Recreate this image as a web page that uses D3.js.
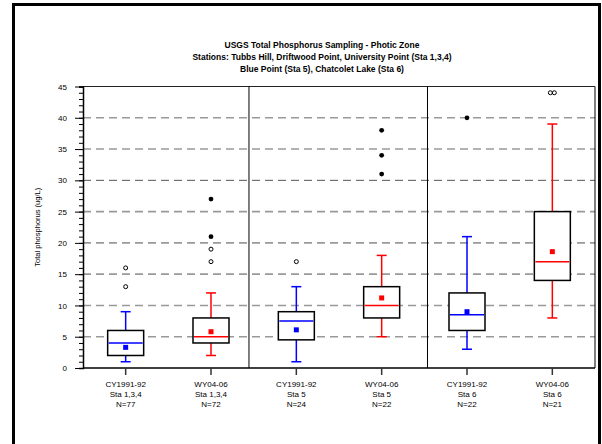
<!DOCTYPE html>
<html>
<head>
<meta charset="utf-8">
<script src="https://cdn.jsdelivr.net/npm/d3@7"></script>
<style>
  body { margin: 0; background: #fff; }
  svg { display: block; font-family: "Liberation Sans", Arial, sans-serif; }
</style>
</head>
<body>
<div id="chart"></div>
<script>
// box plot data
var periods  = ["CY1991-92", "WY04-06", "CY1991-92", "WY04-06", "CY1991-92", "WY04-06"];
var stations = ["Sta 1,3,4", "Sta 1,3,4", "Sta 5", "Sta 5", "Sta 6", "Sta 6"];
var counts   = [77, 72, 24, 22, 22, 21];
var lowWhisker  = [1, 2, 1, 5, 3, 8];
var q1          = [2, 4, 4.5, 8, 6, 14];
var medians     = [4, 5, 7.5, 10, 8.5, 17];
var q3          = [6, 8, 9, 13, 12, 25];
var highWhisker = [9, 12, 13, 18, 21, 39];
var means       = [3.3, 5.8, 6.1, 11.2, 9, 18.6];
var openOutliers   = [[13, 16], [17, 19], [17], [], [], [44, 44]];
var filledOutliers = [[], [21, 27], [], [31, 34, 38], [40], []];
var dividers = [2.445, 4.537];   // panel separators, in x units
var yTicks = [0, 5, 10, 15, 20, 25, 30, 35, 40, 45];

var width = 602, height = 444;
var colors = ["#0000ff", "#ff0000"];

var svg = d3.select("#chart").append("svg")
    .attr("width", width)
    .attr("height", height);

// outer frame
svg.append("rect")
    .attr("x", 13.5).attr("y", 4.5)
    .attr("width", 586).attr("height", 460)
    .attr("fill", "none").attr("stroke", "#000").attr("stroke-width", 3);

var x = d3.scaleLinear().domain([0.5, 6.5]).range([83, 595]);
var y = d3.scaleLinear().domain([0, 45]).range([368, 86.5]);

// title
var title = ["USGS Total Phosphorus Sampling - Photic Zone",
             "Stations: Tubbs Hill, Driftwood Point, University Point (Sta 1,3,4)",
             "Blue Point (Sta 5), Chatcolet Lake (Sta 6)"];
svg.append("g").selectAll("text")
    .data(title)
    .enter().append("text")
    .attr("x", 322)
    .attr("y", function(d, i) { return 48 + i * 12; })
    .attr("text-anchor", "middle")
    .attr("font-size", "8.5px")
    .attr("font-weight", "bold")
    .text(function(d) { return d; });

// grid lines
svg.append("g").selectAll("line")
    .data(yTicks.filter(function(d) { return d > 0 && d < 45; }))
    .enter().append("line")
    .attr("x1", x(0.5)).attr("x2", x(6.5))
    .attr("y1", function(d) { return y(d); })
    .attr("y2", function(d) { return y(d); })
    .attr("stroke", function(d) { return d == 30 ? "#555" : "#999"; })
    .attr("stroke-width", function(d) { return d == 30 ? 1 : 1.6; })
    .attr("stroke-dasharray", "8,5");

// plot frame top / right
svg.append("line").attr("x1", x(0.5)).attr("x2", x(6.5)).attr("y1", y(45)).attr("y2", y(45))
    .attr("stroke", "#222").attr("stroke-width", 1);
svg.append("line").attr("x1", x(6.5)).attr("x2", x(6.5)).attr("y1", y(45)).attr("y2", y(0))
    .attr("stroke", "#000").attr("stroke-width", 1);

// panel dividers
svg.append("g").selectAll("line")
    .data(dividers)
    .enter().append("line")
    .attr("x1", function(d) { return x(d); })
    .attr("x2", function(d) { return x(d); })
    .attr("y1", y(45)).attr("y2", y(0))
    .attr("stroke", "#000").attr("stroke-width", 1);

// y axis
var yAxis = svg.append("g")
    .attr("transform", "translate(" + x(0.5) + ",0)")
    .call(d3.axisLeft(y).tickValues(d3.range(0, 46, 1)).tickSize(4).tickFormat(""));
yAxis.selectAll("line").attr("stroke", "#000").attr("stroke-width", 1);
yAxis.select(".domain").attr("stroke", "#000").attr("stroke-width", 1.5);

var yMajor = svg.append("g")
    .attr("transform", "translate(" + x(0.5) + ",0)")
    .call(d3.axisLeft(y).tickValues(yTicks).tickSize(8).tickPadding(8));
yMajor.select(".domain").remove();
yMajor.selectAll("line").attr("stroke", "#000").attr("stroke-width", 1);
yMajor.selectAll("text").attr("font-size", "8px").attr("fill", "#000")
    .attr("font-family", "Liberation Sans, Arial, sans-serif");

svg.append("text")
    .attr("transform", "translate(40," + y(22.5) + ") rotate(-90)")
    .attr("text-anchor", "middle")
    .attr("font-size", "7.5px")
    .text("Total phosphorus (ug/L)");

// x axis line
svg.append("line").attr("x1", x(0.5)).attr("x2", x(6.5)).attr("y1", y(0)).attr("y2", y(0))
    .attr("stroke", "#000").attr("stroke-width", 1.5);

var idx = d3.range(periods.length);

// x ticks and labels
var xg = svg.append("g").selectAll("g")
    .data(idx)
    .enter().append("g")
    .attr("transform", function(i) { return "translate(" + x(i + 1) + "," + y(0) + ")"; });
xg.append("line").attr("y1", 0).attr("y2", 7).attr("stroke", "#333").attr("stroke-width", 1.5);
xg.append("text").attr("y", 19).attr("text-anchor", "middle").attr("font-size", "8px")
    .text(function(i) { return periods[i]; });
xg.append("text").attr("y", 29).attr("text-anchor", "middle").attr("font-size", "8px")
    .text(function(i) { return stations[i]; });
xg.append("text").attr("y", 39).attr("text-anchor", "middle").attr("font-size", "8px")
    .text(function(i) { return "N=" + counts[i]; });

// boxes
var boxW = 36, capW = 10;
var box = svg.append("g").selectAll("g")
    .data(idx)
    .enter().append("g");

box.append("line")
    .attr("x1", function(i) { return x(i + 1); })
    .attr("x2", function(i) { return x(i + 1); })
    .attr("y1", function(i) { return y(q3[i]); })
    .attr("y2", function(i) { return y(highWhisker[i]); })
    .attr("stroke", function(i) { return colors[i % 2]; }).attr("stroke-width", 1.5);
box.append("line")
    .attr("x1", function(i) { return x(i + 1); })
    .attr("x2", function(i) { return x(i + 1); })
    .attr("y1", function(i) { return y(q1[i]); })
    .attr("y2", function(i) { return y(lowWhisker[i]); })
    .attr("stroke", function(i) { return colors[i % 2]; }).attr("stroke-width", 1.5);
box.append("line")
    .attr("x1", function(i) { return x(i + 1) - capW / 2; })
    .attr("x2", function(i) { return x(i + 1) + capW / 2; })
    .attr("y1", function(i) { return y(highWhisker[i]); })
    .attr("y2", function(i) { return y(highWhisker[i]); })
    .attr("stroke", function(i) { return colors[i % 2]; }).attr("stroke-width", 1.5);
box.append("line")
    .attr("x1", function(i) { return x(i + 1) - capW / 2; })
    .attr("x2", function(i) { return x(i + 1) + capW / 2; })
    .attr("y1", function(i) { return y(lowWhisker[i]); })
    .attr("y2", function(i) { return y(lowWhisker[i]); })
    .attr("stroke", function(i) { return colors[i % 2]; }).attr("stroke-width", 1.5);

box.append("rect")
    .attr("x", function(i) { return x(i + 1) - boxW / 2; })
    .attr("y", function(i) { return y(q3[i]); })
    .attr("width", boxW)
    .attr("height", function(i) { return y(q1[i]) - y(q3[i]); })
    .attr("fill", "#fff").attr("stroke", "#000").attr("stroke-width", 1.5);

box.append("line")
    .attr("x1", function(i) { return x(i + 1) - boxW / 2 + 1; })
    .attr("x2", function(i) { return x(i + 1) + boxW / 2 - 1; })
    .attr("y1", function(i) { return y(medians[i]); })
    .attr("y2", function(i) { return y(medians[i]); })
    .attr("stroke", function(i) { return colors[i % 2]; }).attr("stroke-width", 1.5);

box.append("rect")
    .attr("x", function(i) { return x(i + 1) - 2.5; })
    .attr("y", function(i) { return y(means[i]) - 2.5; })
    .attr("width", 5).attr("height", 5)
    .attr("fill", function(i) { return colors[i % 2]; });

// outliers; identical values get nudged apart
function spread(vals, i) {
    return vals.map(function(v, k) {
        var same = vals.filter(function(w) { return w == v; }).length;
        var pos = vals.slice(0, k).filter(function(w) { return w == v; }).length;
        return { i: i, v: v, dx: same > 1 ? (pos - (same - 1) / 2) * 4 : 0 };
    });
}
var openPts = [], filledPts = [];
idx.forEach(function(i) {
    openPts = openPts.concat(spread(openOutliers[i], i));
    filledPts = filledPts.concat(spread(filledOutliers[i], i));
});

svg.append("g").selectAll("circle")
    .data(openPts)
    .enter().append("circle")
    .attr("cx", function(d) { return x(d.i + 1) + d.dx; })
    .attr("cy", function(d) { return y(d.v); })
    .attr("r", 2)
    .attr("fill", "none").attr("stroke", "#000").attr("stroke-width", 1);

svg.append("g").selectAll("circle")
    .data(filledPts)
    .enter().append("circle")
    .attr("cx", function(d) { return x(d.i + 1) + d.dx; })
    .attr("cy", function(d) { return y(d.v); })
    .attr("r", 2.4)
    .attr("fill", "#000");
</script>
</body>
</html>
